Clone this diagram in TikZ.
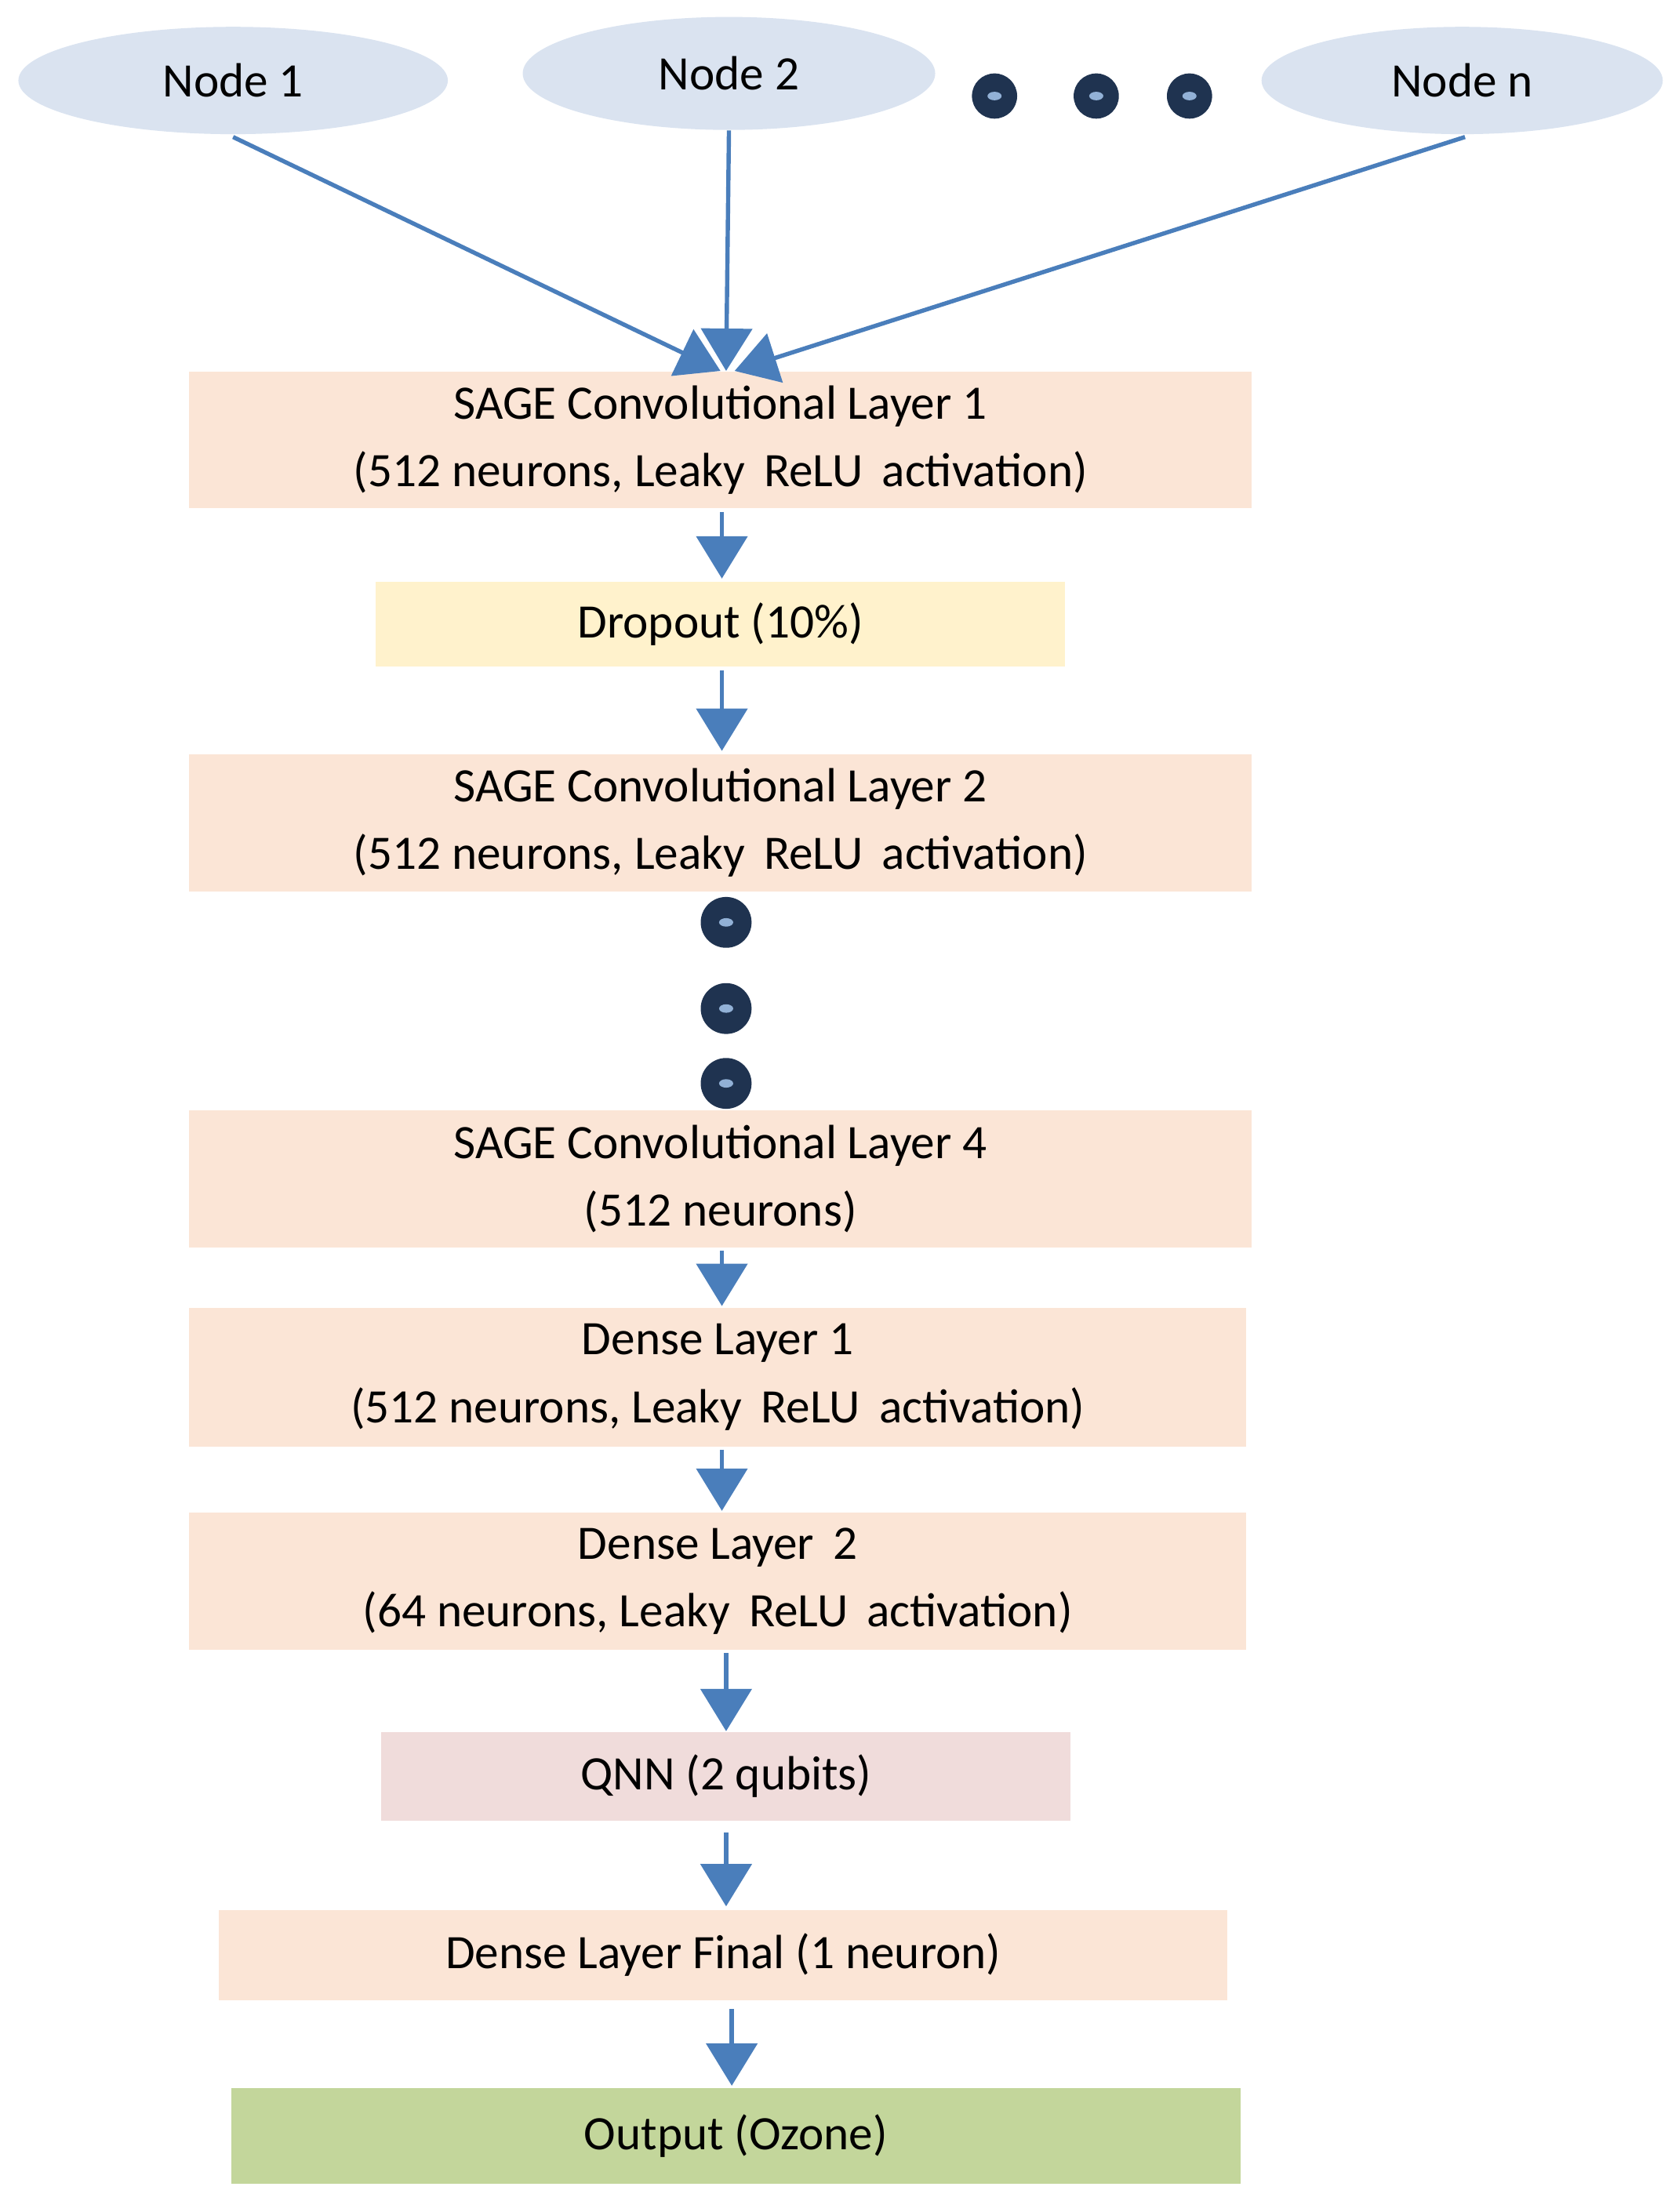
\documentclass[tikz,border=0pt]{standalone}
\usepackage{fontspec}
\setmainfont{Carlito}
\usetikzlibrary{arrows.meta,calc,shapes.geometric}
\definecolor{ell}{HTML}{DAE3F0}
\definecolor{peach}{HTML}{FBE5D6}
\definecolor{yel}{HTML}{FFF2CC}
\definecolor{pink}{HTML}{F0DCDB}
\definecolor{grn}{HTML}{C3D69B}
\definecolor{arr}{HTML}{4A7EBB}
\definecolor{navy}{HTML}{1F3350}
\begin{document}
\begin{tikzpicture}[x=0.5pt,y=-0.5pt,
  box/.style={draw=none,fill=peach,minimum width=#1*0.5pt,inner sep=0pt,align=center,font=\fontsize{17}{24}\selectfont},
  el/.style={ellipse,fill=ell,inner sep=0pt,font=\fontsize{17}{20}\selectfont},
  a/.style={draw=arr,line width=1.5pt,-{Triangle[width=18pt,length=15pt]}},
  dot/.style={circle,fill=navy,minimum size=16pt,inner sep=0pt,path picture={\fill[arr!60] (path picture bounding box.center) ellipse (2.5pt and 1.5pt);}}]
\useasboundingbox (0,0) rectangle (1188,1566);
\node[el,minimum width=152pt,minimum height=38pt] (n1) at (165,57) {Node 1};
\node[el,minimum width=146pt,minimum height=40pt] (n2) at (516,52) {Node 2};
\node[el,minimum width=142pt,minimum height=38pt] (nn) at (1035,57) {Node n};
\node[dot] (d1) at (704,68) {};
\node[dot] (d2) at (776,68) {};
\node[dot] (d3) at (842,68) {};
\node[box=752,minimum height=48.5pt] (s1) at (510,311.5) {SAGE Convolutional Layer 1\\(512 neurons, Leaky\, ReLU\, activation)};
\node[box=488,fill=yel,minimum height=30pt] (dr) at (510,442) {Dropout (10\%)};
\node[box=752,minimum height=48.5pt] (s2) at (510,582.5) {SAGE Convolutional Layer 2\\(512 neurons, Leaky\, ReLU\, activation)};
\node[dot,minimum size=18pt] (v1) at (514,653) {};
\node[dot,minimum size=18pt] (v2) at (514,714) {};
\node[dot,minimum size=18pt] (v3) at (514,767) {};
\node[box=752,minimum height=48.5pt] (s4) at (510,834.5) {SAGE Convolutional Layer 4\\(512 neurons)};
\node[box=748,minimum height=49pt] (de1) at (508,975) {Dense Layer 1\\(512 neurons, Leaky\, ReLU\, activation)};
\node[box=748,minimum height=48.5pt] (de2) at (508,1119.5) {Dense Layer\, 2\\(64 neurons, Leaky\, ReLU\, activation)};
\node[box=488,fill=pink,minimum height=31.5pt] (q) at (514,1257.5) {QNN (2 qubits)};
\node[box=714,minimum height=32pt] (df) at (512,1384) {Dense Layer Final (1 neuron)};
\node[box=714,fill=grn,minimum height=34pt] (o) at (521,1512) {Output (Ozone)};
\draw[a] (165,97) -- ($(s1.north)+(0,0)$);
\draw[a] (n2.south) -- ($(s1.north)+(4,0)$);
\draw[a] (1037,97) -- ($(s1.north)+(10,0)$);
\draw[a] ($(s1.south)+(1,2)$) -- ($(dr.north)+(1,-2)$);
\draw[a] ($(dr.south)+(1,2)$) -- ($(s2.north)+(1,-2)$);
\draw[a] ($(s4.south)+(1,2)$) -- ($(de1.north)+(3,-1)$);
\draw[a] ($(de1.south)+(3,2)$) -- ($(de2.north)+(3,-1)$);
\draw[a] ($(de2.south)+(6,2)$) -- (q.north);
\draw[a] ($(q.south)+(0,8)$) -- ($(df.north)+(2,-2)$);
\draw[a] ($(df.south)+(6,6)$) -- ($(o.north)+(-3,-1)$);
\end{tikzpicture}
\end{document}
